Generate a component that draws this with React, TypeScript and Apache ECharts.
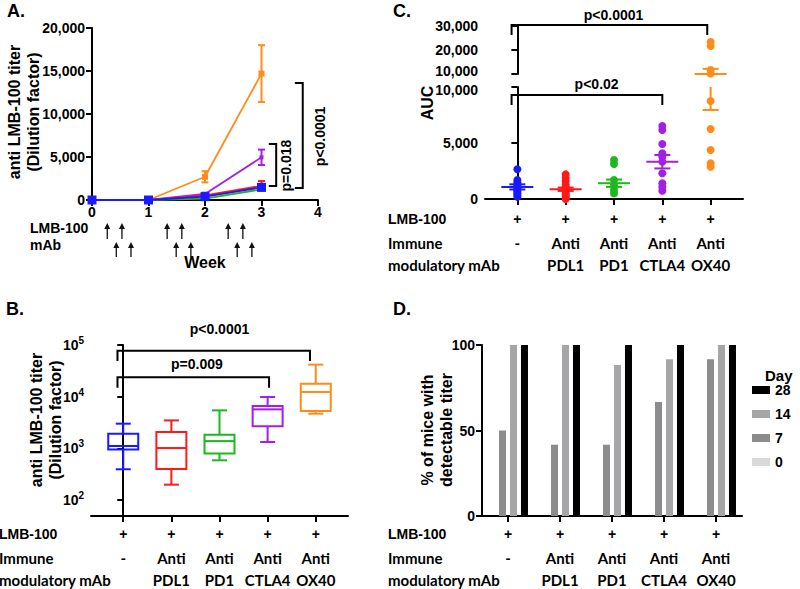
import { useEffect, useRef } from "react";
import * as echarts from "echarts";

const FONT = "'Liberation Sans', Arial, sans-serif";
const CAL = "Lato, 'Open Sans', sans-serif";

// colours: blue (LMB-100 alone), red (PDL1), green (PD1), purple (CTLA4), orange (OX40)
const COLORS = ["#1a1aff", "#ff1a1a", "#1db81d", "#a41fe6", "#ff8c1a"];

// ---------- Panel A: titer over weeks ----------
const weeks = [0, 1, 2, 3];
const titerBlue = [0, 0, 390, 1470];
const errBlue = [0, 0, 80, 200];
const titerRed = [0, 0, 540, 1650];
const errRed = [0, 0, 100, 550];
const titerGreen = [0, 0, 150, 1240];
const errGreen = [0, 0, 50, 120];
const titerPurple = [0, 0, 700, 4960];
const errPurple = [0, 0, 150, 900];
const titerOrange = [0, 0, 2700, 14700];
const errOrange = [0, 0, 650, 3300];
const lmbDoseWeeks = [0.27, 0.53, 1.33, 1.59, 2.41, 2.67];
const mAbDoseWeeks = [0.43, 0.69, 1.49, 1.75, 2.57, 2.83];

// ---------- Group labels (B, C, D) ----------
const lmbRow = ["+", "+", "+", "+", "+"];
const mAbLine1 = ["-", "Anti", "Anti", "Anti", "Anti"];
const mAbLine2 = ["", "PDL1", "PD1", "CTLA4", "OX40"];

// ---------- Panel B: box plots [min, Q1, median, Q3, max] ----------
const boxBlue = [393, 945, 1110, 1925, 3000];
const boxRed = [198, 400, 1013, 2070, 3470];
const boxGreen = [586, 790, 1380, 1840, 5430];
const boxPurple = [1324, 2660, 5680, 6580, 9840];
const boxOrange = [4680, 5250, 12300, 17800, 41700];
const logTicks = [2, 3, 4, 5];

// ---------- Panel C: AUC scatter ----------
const aucBlue = [2650, 1700, 1500, 1300, 1150, 1000, 900, 800, 650, 500, 350, 200];
const aucRed = [2200, 1900, 1600, 1300, 1100, 900, 800, 700, 500, 400, 250, 100, 0];
const aucGreen = [3480, 3125, 1700, 1250, 800, 500];
const aucPurple = [6520, 6160, 4910, 4080, 3780, 3330, 2300, 1400, 1100, 740];
const aucOrange = [23300, 21700, 11700, 10200, 8750, 6250, 4375, 3190, 2880];
const aucMean = [1080, 870, 1410, 3330, 10050];
const aucSem = [230, 150, 330, 600, 2100];
const aucUpperLabels = [20000, 30000];
const aucLowerLabels = [0, 5000];
const aucBreak = 10000;

// ---------- Panel D: % mice with detectable titer ----------
const dayNames = ["0", "7", "14", "28"];
const pctDay0 = [0, 0, 0, 0, 0];
const pctDay7 = [50, 41.7, 41.7, 66.7, 91.7];
const pctDay14 = [100, 100, 88.3, 91.7, 100];
const pctDay28 = [100, 100, 100, 100, 100];
const dayColors = ["#d9d9d9", "#8c8c8c", "#a6a6a9", "#000000"];

const axisText = { color: "#000", fontFamily: FONT, fontWeight: "bold" as const, fontSize: 14 };
const axLine = { show: true, lineStyle: { color: "#000", width: 2 } };
const axTick = { show: true, length: 6, lineStyle: { color: "#000", width: 2 } };
const noSplit = { show: false };
const fmtComma = (v: number) => Math.round(v).toLocaleString("en-US");

function errSeries(vals: number[], errs: number[], color: string) {
  return {
    type: "custom",
    xAxisIndex: 0,
    yAxisIndex: 0,
    clip: false,
    z: 3,
    data: weeks.map((w, i) => [w, vals[i], errs[i]]).filter((d) => d[2] > 0),
    renderItem: (_p: any, api: any) => {
      const x = api.value(0), v = api.value(1), e = api.value(2);
      const t = api.coord([x, v + e]);
      const b = api.coord([x, v - e]);
      const hw = 3.5;
      const st = { stroke: color, lineWidth: 2 };
      return {
        type: "group",
        children: [
          { type: "line", shape: { x1: t[0], y1: t[1], x2: b[0], y2: b[1] }, style: st },
          { type: "line", shape: { x1: t[0] - hw, y1: t[1], x2: t[0] + hw, y2: t[1] }, style: st },
          { type: "line", shape: { x1: b[0] - hw, y1: b[1], x2: b[0] + hw, y2: b[1] }, style: st },
        ],
      };
    },
  };
}

function lineSeries(vals: number[], color: string, size: number) {
  return {
    type: "line",
    xAxisIndex: 0,
    yAxisIndex: 0,
    clip: false,
    z: 4,
    data: weeks.map((w, i) => [w, vals[i]]),
    symbol: "rect",
    symbolSize: size,
    itemStyle: { color },
    lineStyle: { color, width: 1.8 },
  };
}

function meanSeries(axisIdx: number, lo: number, hi: number) {
  return {
    type: "custom",
    xAxisIndex: axisIdx,
    yAxisIndex: axisIdx,
    clip: false,
    z: 5,
    data: aucMean.map((m, i) => [i, m, aucSem[i]]),
    renderItem: (params: any, api: any) => {
      const i = api.value(0), m = api.value(1), s = api.value(2);
      const color = COLORS[params.dataIndex];
      const P = (v: number) => api.coord([i, v]);
      const inR = (v: number) => v >= lo && v <= hi;
      const st = { stroke: color, lineWidth: 2 };
      const ch: any[] = [];
      if (inR(m)) {
        const p = P(m);
        ch.push({ type: "line", shape: { x1: p[0] - 16, y1: p[1], x2: p[0] + 16, y2: p[1] }, style: st });
      }
      const a = Math.max(m - s, lo), b = Math.min(m + s, hi);
      if (a < b) {
        const pa = P(a), pb = P(b);
        ch.push({ type: "line", shape: { x1: pa[0], y1: pa[1], x2: pb[0], y2: pb[1] }, style: st });
      }
      [m - s, m + s].forEach((v) => {
        if (inR(v)) {
          const p = P(v);
          ch.push({ type: "line", shape: { x1: p[0] - 8, y1: p[1], x2: p[0] + 8, y2: p[1] }, style: st });
        }
      });
      return { type: "group", children: ch };
    },
  };
}

const aucGroups = [aucBlue, aucRed, aucGreen, aucPurple, aucOrange];
const boxGroups = [boxBlue, boxRed, boxGreen, boxPurple, boxOrange];

function buildOption() {
  const series: any[] = [];
  // Panel A
  series.push(errSeries(titerOrange, errOrange, COLORS[4]));
  series.push(errSeries(titerPurple, errPurple, COLORS[3]));
  series.push(errSeries(titerRed, errRed, COLORS[1]));
  series.push(errSeries(titerGreen, errGreen, COLORS[2]));
  series.push(errSeries(titerBlue, errBlue, COLORS[0]));
  series.push(lineSeries(titerOrange, COLORS[4], 6));
  series.push(lineSeries(titerPurple, COLORS[3], 4));
  series.push(lineSeries(titerRed, COLORS[1], 4));
  series.push(lineSeries(titerGreen, COLORS[2], 4));
  series.push(lineSeries(titerBlue, COLORS[0], 9));

  // Panel C scatter (upper and lower segments)
  aucGroups.forEach((g, i) => {
    const low = g.filter((v) => v <= aucBreak).map((v) => [i, v]);
    const high = g.filter((v) => v > aucBreak).map((v) => [i, v]);
    series.push({ type: "scatter", xAxisIndex: 2, yAxisIndex: 2, clip: false, symbol: "circle", symbolSize: 8, itemStyle: { color: COLORS[i], opacity: 1 }, data: low, z: 4 });
    if (high.length)
      series.push({ type: "scatter", xAxisIndex: 1, yAxisIndex: 1, clip: false, symbol: "circle", symbolSize: 8, itemStyle: { color: COLORS[i], opacity: 1 }, data: high, z: 4 });
  });
  series.push(meanSeries(1, aucBreak, 30000));
  series.push(meanSeries(2, 0, aucBreak));

  // Panel B boxes
  series.push({
    type: "custom",
    xAxisIndex: 3,
    yAxisIndex: 3,
    clip: false,
    data: boxGroups.map((b, i) => [i, ...b.map((v) => Math.log10(v))]),
    renderItem: (params: any, api: any) => {
      const x = api.value(0);
      const vals = [1, 2, 3, 4, 5].map((k) => api.value(k));
      const ys = vals.map((v) => api.coord([x, v])[1]);
      const cx = api.coord([x, vals[0]])[0];
      const color = COLORS[params.dataIndex];
      const st = { stroke: color, lineWidth: 2, fill: "none" };
      const hw = 15, cw = 7.5;
      return {
        type: "group",
        children: [
          { type: "rect", shape: { x: cx - hw, y: ys[3], width: 2 * hw, height: ys[1] - ys[3] }, style: st },
          { type: "line", shape: { x1: cx - hw, y1: ys[2], x2: cx + hw, y2: ys[2] }, style: st },
          { type: "line", shape: { x1: cx, y1: ys[0], x2: cx, y2: ys[1] }, style: st },
          { type: "line", shape: { x1: cx, y1: ys[3], x2: cx, y2: ys[4] }, style: st },
          { type: "line", shape: { x1: cx - cw, y1: ys[0], x2: cx + cw, y2: ys[0] }, style: st },
          { type: "line", shape: { x1: cx - cw, y1: ys[4], x2: cx + cw, y2: ys[4] }, style: st },
        ],
      };
    },
  });

  // Panel D bars
  [pctDay0, pctDay7, pctDay14, pctDay28].forEach((d, k) => {
    series.push({
      type: "bar",
      name: dayNames[k],
      xAxisIndex: 4,
      yAxisIndex: 4,
      data: d,
      barWidth: 7,
      barGap: "57%",
      itemStyle: { color: dayColors[k] },
    });
  });

  return {
    animation: false,
    backgroundColor: "#fff",
    textStyle: { fontFamily: FONT },
    legend: {
      data: ["28", "14", "7", "0"],
      orient: "vertical",
      left: 752,
      top: 383,
      padding: 0,
      itemWidth: 18,
      itemHeight: 8,
      itemGap: 10,
      icon: "rect",
      selectedMode: false,
      textStyle: { ...axisText, fontSize: 14 },
    },
    grid: [
      { left: 92, top: 28, width: 226, height: 172 },
      { left: 485, top: 26, width: 258, height: 48 },
      { left: 485, top: 87, width: 258, height: 112 },
      { left: 91, top: 345, width: 257, height: 171 },
      { left: 482, top: 345, width: 260, height: 171 },
    ],
    xAxis: [
      { gridIndex: 0, type: "value", min: 0, max: 4, interval: 1, axisLine: axLine, axisTick: axTick, splitLine: noSplit, axisLabel: { ...axisText, margin: 5 } },
      { gridIndex: 1, type: "value", min: -0.67, max: 4.67, show: false, splitLine: noSplit },
      { gridIndex: 2, type: "value", min: -0.67, max: 4.67, axisLine: axLine, axisTick: { ...axTick, customValues: [0, 1, 2, 3, 4] }, axisLabel: { show: false }, splitLine: noSplit },
      { gridIndex: 3, type: "value", min: -0.67, max: 4.67, axisLine: axLine, axisTick: { ...axTick, customValues: [0, 1, 2, 3, 4] }, axisLabel: { show: false }, splitLine: noSplit },
      { gridIndex: 4, type: "category", data: ["a", "b", "c", "d", "e"], axisLine: axLine, axisTick: { ...axTick, alignWithLabel: true }, axisLabel: { show: false }, splitLine: noSplit },
    ],
    yAxis: [
      { gridIndex: 0, type: "value", min: 0, max: 20000, interval: 5000, axisLine: axLine, axisTick: axTick, splitLine: noSplit, axisLabel: { ...axisText, margin: 7, formatter: fmtComma } },
      { gridIndex: 1, type: "value", min: 10000, max: 30000, interval: 10000, axisLine: axLine, axisTick: axTick, splitLine: noSplit, axisLabel: { ...axisText, margin: 7, customValues: aucUpperLabels, formatter: fmtComma } },
      { gridIndex: 2, type: "value", min: 0, max: 10000, interval: 5000, axisLine: axLine, axisTick: axTick, splitLine: noSplit, axisLabel: { ...axisText, margin: 7, customValues: aucLowerLabels, formatter: fmtComma } },
      {
        gridIndex: 3, type: "value", min: 1.69, max: 5, axisLine: axLine,
        axisTick: { ...axTick, customValues: logTicks }, splitLine: noSplit,
        axisLabel: {
          ...axisText, margin: 7, customValues: logTicks,
          formatter: (v: number) => "{b|10}{s|" + Math.round(v) + "}",
          rich: {
            b: { fontFamily: FONT, fontWeight: "bold", fontSize: 14, color: "#000" },
            s: { fontFamily: FONT, fontWeight: "bold", fontSize: 10, color: "#000", padding: [0, 0, 9, 0] },
          },
        },
      },
      { gridIndex: 4, type: "value", min: 0, max: 100, interval: 50, axisLine: axLine, axisTick: axTick, splitLine: noSplit, axisLabel: { ...axisText, margin: 7 } },
    ],
    series,
  };
}

function txt(text: string, x: number, y: number, o: any = {}) {
  return {
    type: "text",
    x,
    y,
    rotation: o.rot || 0,
    z: 10,
    style: {
      text,
      fill: "#000",
      fontFamily: o.family || FONT,
      fontWeight: "bold",
      fontSize: o.size || 14,
      lineHeight: o.lh || undefined,
      align: o.align || "left",
      verticalAlign: o.valign || "middle",
    },
  };
}

function poly(points: number[][]) {
  return { type: "polyline", z: 10, shape: { points }, style: { stroke: "#000", lineWidth: 2, fill: null } };
}

function buildGraphics(chart: any) {
  const px = (g: number, x: number, y: number) => chart.convertToPixel({ gridIndex: g }, [x, y]) as number[];
  const els: any[] = [];

  // Panel letters
  els.push(txt("A.", 7, 11, { size: 18 }));
  els.push(txt("B.", 6, 309, { size: 18 }));
  els.push(txt("C.", 393, 11, { size: 18 }));
  els.push(txt("D.", 393, 309, { size: 18 }));

  // Axis titles
  els.push(txt("anti LMB-100 titer\n(Dilution factor)", 24, 112, { size: 16, rot: Math.PI / 2, align: "center", lh: 19 }));
  els.push(txt("anti LMB-100 titer\n(Dilution factor)", 46, 420, { size: 16, rot: Math.PI / 2, align: "center", lh: 19 }));
  els.push(txt("AUC", 427, 103, { size: 16, rot: Math.PI / 2, align: "center" }));
  els.push(txt("% of mice with\ndetectable titer", 437, 430, { size: 16, rot: Math.PI / 2, align: "center", lh: 19 }));

  // Broken-axis labels at the break (panel C)
  const up = px(1, -0.67, aucBreak);
  els.push(txt(fmtComma(aucBreak), up[0] - 7, up[1] + 4, { align: "right", valign: "bottom" }));
  const dn = px(2, -0.67, aucBreak);
  els.push(txt(fmtComma(aucBreak), dn[0] - 7, dn[1] - 4, { align: "right", valign: "top" }));

  // Panel A dosing arrows
  els.push(txt("LMB-100", 30, 228));
  els.push(txt("mAb", 30, 245));
  els.push(txt("Week", 205, 262, { size: 16, align: "center" }));
  const arrow = (w: number, yTip: number, yBot: number) => {
    const x = px(0, w, 0)[0];
    els.push({ type: "line", z: 10, shape: { x1: x, y1: yBot, x2: x, y2: yTip + 4 }, style: { stroke: "#111", lineWidth: 1.3 } });
    els.push({ type: "polygon", z: 10, shape: { points: [[x, yTip], [x - 3, yTip + 6], [x + 3, yTip + 6]] }, style: { fill: "#111" } });
  };
  lmbDoseWeeks.forEach((w) => arrow(w, 223, 239));
  mAbDoseWeeks.forEach((w) => arrow(w, 242, 257));

  // Panel A brackets (vertical)
  const vBracket = (xv: number, xt: number, yTop: number, yBot: number) => {
    const a = px(0, xt, yTop), b = px(0, xv, yTop), c = px(0, xv, yBot), d = px(0, xt, yBot);
    els.push(poly([a, b, c, d]));
  };
  vBracket(3.26, 3.13, 6500, 1630);
  vBracket(3.73, 3.59, 13600, 1400);
  const t1 = px(0, 3.44, 4000);
  els.push(txt("p=0.018", t1[0], t1[1], { rot: Math.PI / 2, align: "center" }));
  const t2 = px(0, 4.04, 7400);
  els.push(txt("p<0.0001", t2[0], t2[1], { rot: Math.PI / 2, align: "center" }));

  // horizontal brackets
  const hBracket = (g: number, x1: number, x2: number, yH: number, yL: number) => {
    els.push(poly([px(g, x1, yL), px(g, x1, yH), px(g, x2, yH), px(g, x2, yL)]));
  };
  // B
  hBracket(3, -0.12, 3.88, 4.89, 4.69);
  hBracket(3, -0.12, 3.03, 4.375, 4.174);
  let p = px(3, 2.0, 5.31);
  els.push(txt("p<0.0001", p[0], p[1], { align: "center" }));
  p = px(3, 1.53, 4.63);
  els.push(txt("p=0.009", p[0], p[1], { align: "center" }));
  // C
  hBracket(1, -0.12, 3.93, 30400, 26250);
  hBracket(2, -0.12, 3.0, 9290, 8390);
  p = px(1, 1.99, 34600);
  els.push(txt("p<0.0001", p[0], p[1], { align: "center" }));
  p = px(2, 1.64, 10270);
  els.push(txt("p<0.02", p[0], p[1], { align: "center" }));

  // D legend title
  els.push(txt("Day", 765, 375, { size: 15 }));

  // Group labels under B, C, D
  const rows = (g: number, labelX: number, ys: number[]) => {
    els.push(txt("LMB-100", labelX, ys[0]));
    els.push(txt("Immune", labelX, ys[1], { family: CAL, size: 15 }));
    els.push(txt("modulatory mAb", labelX, ys[2], { family: CAL, size: 15 }));
    lmbRow.forEach((s, i) => {
      const x = px(g, i, 0)[0];
      els.push(txt(s, x, ys[0], { align: "center" }));
      els.push(txt(mAbLine1[i], x, ys[1], { family: CAL, size: 15, align: "center" }));
      if (mAbLine2[i]) els.push(txt(mAbLine2[i], x, ys[2], { family: CAL, size: 15, align: "center" }));
    });
  };
  rows(2, 388, [219, 243, 265]);
  rows(3, -1, [534, 558, 580]);
  rows(4, 388, [534, 558, 580]);

  return els;
}

export default function App() {
  const ref = useRef<HTMLDivElement>(null);
  useEffect(() => {
    if (!ref.current) return;
    const chart = echarts.init(ref.current, null, { renderer: "svg" });
    chart.setOption(buildOption() as any);
    chart.setOption({ graphic: buildGraphics(chart) } as any);
    return () => chart.dispose();
  }, []);
  return <div ref={ref} style={{ position: "absolute", left: 0, top: 0, width: 800, height: 589 }} />;
}
